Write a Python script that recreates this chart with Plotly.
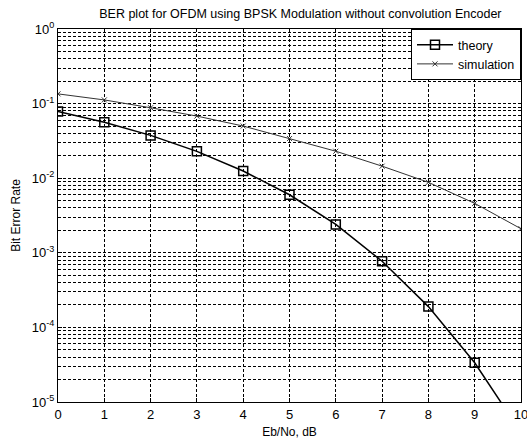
import plotly.graph_objects as go

ebno_db = [0, 1, 2, 3, 4, 5, 6, 7, 8, 9, 10]
ber_theory = [0.0786, 0.0563, 0.0375, 0.0229, 0.0125, 0.0060, 0.0024, 0.00077, 0.00019, 0.0000336, 0.0000039]
ber_sim = [0.135, 0.112, 0.088, 0.068, 0.050, 0.034, 0.023, 0.0145, 0.0088, 0.0046, 0.0021]

y_tickvals = [1, 0.1, 0.01, 0.001, 0.0001, 0.00001]
y_ticktext = ["10<sup>0</sup>", "10<sup>-1</sup>", "10<sup>-2</sup>", "10<sup>-3</sup>", "10<sup>-4</sup>", "10<sup>-5</sup>"]

font_family = "Liberation Sans, Arial, sans-serif"
grid_dash = "3px,2px"

fig = go.Figure()
fig.add_trace(go.Scatter(
    x=ebno_db, y=ber_theory, name="theory", mode="lines+markers",
    line=dict(color="black", width=1.5),
    marker=dict(symbol="square-open", size=9, color="black", line=dict(width=1.5)),
))
fig.add_trace(go.Scatter(
    x=ebno_db, y=ber_sim, name="simulation", mode="lines+markers",
    line=dict(color="#333333", width=1),
    marker=dict(symbol="x-thin-open", size=5, color="#333333", line=dict(width=1)),
))

fig.update_layout(
    width=527, height=444,
    margin=dict(l=58, r=6, t=29, b=42),
    paper_bgcolor="white", plot_bgcolor="white",
    font=dict(family=font_family, size=13, color="black"),
    title=dict(text="BER plot for OFDM using BPSK Modulation without convolution Encoder",
               x=0.57, xanchor="center", y=0.97, yanchor="middle",
               font=dict(size=12.5, family=font_family, color="black")),
    legend=dict(x=1, y=1, xanchor="right", yanchor="top",
                bgcolor="white", bordercolor="black", borderwidth=1,
                font=dict(size=12.5, family=font_family), tracegroupgap=0,
                itemwidth=36),
    showlegend=True,
)

fig.update_xaxes(
    range=[0, 10], dtick=1, tick0=0,
    showline=True, linecolor="black", linewidth=1.3, mirror=True,
    showgrid=True, gridcolor="black", gridwidth=1, griddash=grid_dash,
    ticks="inside", ticklen=4, tickcolor="black",
    ticklabeloverflow="allow", automargin=False,
    zeroline=False,
    title=dict(text="Eb/No, dB", standoff=6, font=dict(size=12)),
)
fig.update_yaxes(
    type="log", range=[-5, 0],
    tickvals=y_tickvals, ticktext=y_ticktext,
    showline=True, linecolor="black", linewidth=1.3, mirror=True,
    showgrid=True, gridcolor="black", gridwidth=1, griddash=grid_dash,
    minor=dict(showgrid=True, gridcolor="black", gridwidth=1, griddash=grid_dash, dtick="D1"),
    ticks="inside", ticklen=4, tickcolor="black",
    automargin=False,
    title=dict(text="Bit Error Rate", standoff=8, font=dict(size=12)),
)

fig.write_html("out.html")
